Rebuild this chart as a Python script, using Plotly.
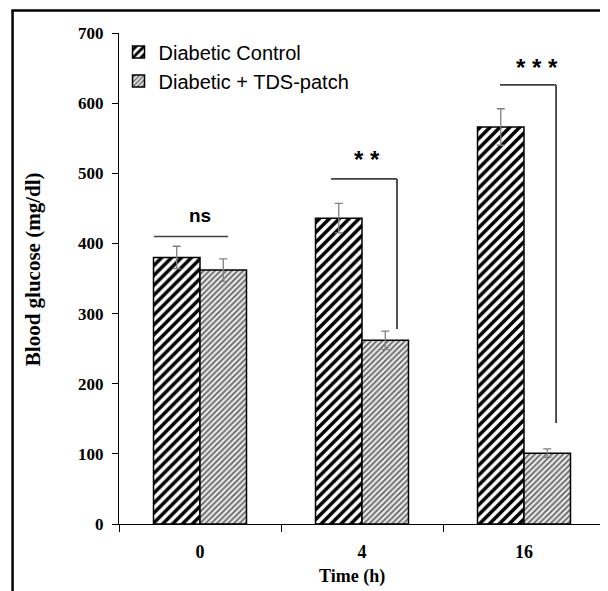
import plotly.graph_objects as go

categories = ["0", "4", "16"]
control_vals = [380, 436, 566]
control_err = [16, 21, 26]
tds_vals = [362, 262, 101]
tds_err = [16, 13, 6]
series_names = ["Diabetic Control", "Diabetic + TDS-patch"]
y_ticks = [0, 100, 200, 300, 400, 500, 600, 700]

xpos = list(range(len(categories)))

fig = go.Figure()
fig.add_trace(go.Bar(
    x=xpos, y=control_vals, name=series_names[0],
    marker=dict(color="white", line=dict(color="black", width=1.5),
                pattern=dict(shape="/", size=7, solidity=0.5, fgcolor="black", fgopacity=1, bgcolor="white")),
    error_y=dict(type="data", array=control_err, color="#808080", thickness=1.3, width=4),
))
fig.add_trace(go.Bar(
    x=xpos, y=tds_vals, name=series_names[1],
    marker=dict(color="#d9d9d9", line=dict(color="black", width=1.5),
                pattern=dict(shape="/", size=4, solidity=0.4, fgcolor="#606060", fgopacity=1, bgcolor="#e8e8e8")),
    error_y=dict(type="data", array=tds_err, color="#808080", thickness=1.3, width=4),
))

line_col = "#404040"
shapes = [
    dict(type="line", xref="x", yref="y", x0=-0.284, x1=0.173, y0=410, y1=410, line=dict(color=line_col, width=1.5)),
    dict(type="line", xref="x", yref="y", x0=0.809, x1=1.216, y0=492, y1=492, line=dict(color=line_col, width=1.8)),
    dict(type="line", xref="x", yref="y", x0=1.216, x1=1.216, y0=492, y1=278, line=dict(color=line_col, width=1.8)),
    dict(type="line", xref="x", yref="y", x0=1.852, x1=2.198, y0=626, y1=626, line=dict(color=line_col, width=1.8)),
    dict(type="line", xref="x", yref="y", x0=2.198, x1=2.198, y0=626, y1=144, line=dict(color=line_col, width=1.8)),
    # outer frame (left and top)
    dict(type="line", xref="paper", yref="paper", x0=-0.219, x1=-0.219, y0=1.046, y1=-0.2, line=dict(color="black", width=2.5)),
    dict(type="line", xref="paper", yref="paper", x0=-0.2215, x1=1.02, y0=1.046, y1=1.046, line=dict(color="black", width=2.5)),
]

annots = [
    dict(x=0, y=440, xref="x", yref="y", text="<b>ns</b>", showarrow=False,
         font=dict(family="Liberation Sans", size=19, color="black")),
    dict(x=1.03, y=519, xref="x", yref="y", text="<b>* *</b>", showarrow=False,
         font=dict(family="Liberation Sans", size=24, color="black")),
    dict(x=2.08, y=651, xref="x", yref="y", text="<b>* * *</b>", showarrow=False,
         font=dict(family="Liberation Sans", size=24, color="black")),
    # axis titles
    dict(x=-0.178, y=0.52, xref="paper", yref="paper", text="<b>Blood glucose (mg/dl)</b>",
         textangle=-90, showarrow=False, xanchor="center", yanchor="middle",
         font=dict(family="Liberation Serif", size=21, color="black")),
    dict(x=0.479, y=-0.106, xref="paper", yref="paper", text="<b>Time (h)</b>",
         showarrow=False, xanchor="center", yanchor="middle",
         font=dict(family="Liberation Serif", size=18, color="black")),
]

fig.update_layout(
    width=600, height=583,
    margin=dict(l=111, r=3, t=25, b=67),
    paper_bgcolor="white", plot_bgcolor="white",
    barmode="group", bargap=0.426, bargroupgap=0,
    shapes=shapes, annotations=annots,
    showlegend=True,
    legend=dict(x=-0.001, y=1.001, xanchor="left", yanchor="top",
                bgcolor="rgba(0,0,0,0)", itemwidth=30, tracegroupgap=0,
                font=dict(family="Liberation Sans", size=20, color="black")),
    xaxis=dict(range=[-0.5, 2.5], tickvals=xpos, ticktext=categories, automargin=False,
               ticks="", showgrid=False, zeroline=False, ticklabelstandoff=11,
               showline=True, linecolor="black", linewidth=1.3,
               minor=dict(tickvals=[-0.5, 0.5, 1.5, 2.5], ticks="outside", ticklen=7,
                          tickcolor="black", tickwidth=1.3, showgrid=False),
               tickfont=dict(family="Liberation Serif", size=18, color="black", weight="bold")),
    yaxis=dict(range=[0, 700], tickvals=y_ticks, ticks="outside", ticklen=6, automargin=False,
               tickcolor="black", tickwidth=1.3, showgrid=False, zeroline=False,
               showline=True, linecolor="black", linewidth=1.3, ticklabelstandoff=5,
               tickfont=dict(family="Liberation Serif", size=17, color="black", weight="bold")),
)

fig.write_html("out.html")
